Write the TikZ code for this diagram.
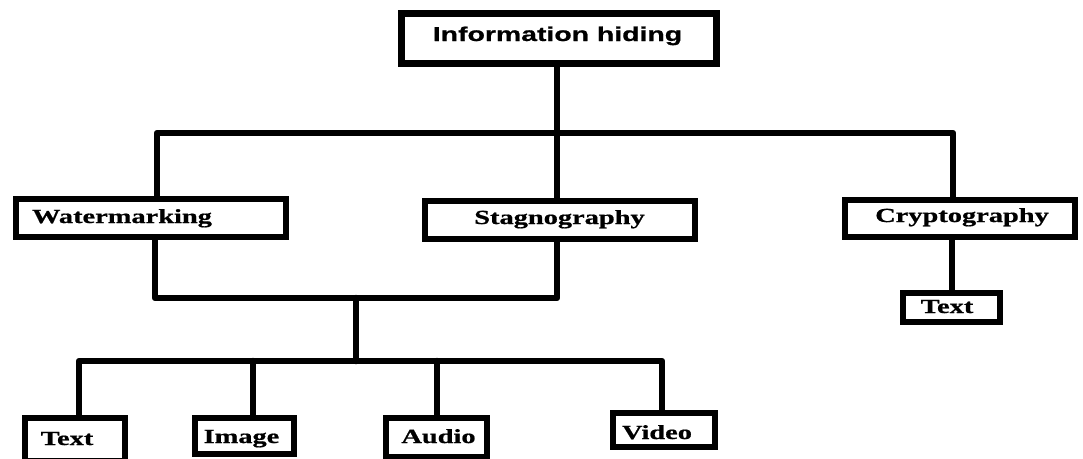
\documentclass[tikz,border=0pt]{standalone}
\usepackage{fontspec}
\setmainfont{Liberation Serif}[FakeStretch=1.42,FakeBold=0.8]
\newfontfamily\headfont{Liberation Sans}[FakeStretch=1.42,FakeBold=0.8]
\begin{document}
\begin{tikzpicture}[x=1pt,y=-1pt,
  box/.style={draw=black,line width=6pt,fill=white,inner sep=0pt},
  lbl/.style={anchor=base,inner sep=0pt,font=\fontsize{20}{22}\selectfont\bfseries},
  wire/.style={line width=6.5pt,line cap=round,line join=round}]
\useasboundingbox (0,0) rectangle (1083,458);

% junction points of the tree
\coordinate (b1L) at (157,133);
\coordinate (b1S) at (557,133);
\coordinate (b1R) at (953,133);
\coordinate (b2L) at (155,298);
\coordinate (b2M) at (356,298);
\coordinate (b2R) at (557,298);
\coordinate (b3M) at (356,361);
\coordinate (b3A) at (79,361);
\coordinate (b3B) at (253,361);
\coordinate (b3C) at (437,361);
\coordinate (b3D) at (662,361);

% boxes
\node[box,line width=7pt,minimum width=315pt,minimum height=50pt] (info) at (559,38.5) {};
\node[box,minimum width=270pt,minimum height=38pt] (wm) at (151,218) {};
\node[box,minimum width=270pt,minimum height=38pt] (st) at (560,220) {};
\node[box,minimum width=230pt,minimum height=37pt] (cr) at (960,218.5) {};
\node[box,minimum width=97pt,minimum height=29pt] (tc) at (951.5,307.5) {};
\node[box,minimum width=100pt,minimum height=43pt] (tb) at (75,439.5) {};
\node[box,minimum width=99pt,minimum height=36pt] (im) at (244.5,436) {};
\node[box,minimum width=101pt,minimum height=39pt] (au) at (436.5,437.5) {};
\node[box,minimum width=102pt,minimum height=34pt] (vi) at (664,430) {};

% tree lines
\draw[wire] (info.south -| b1S) -- (b1S) -- (b1S |- st.north);
\draw[wire] (b1L |- wm.north) -- (b1L) -- (b1R) -- (b1R |- cr.north);
\draw[wire] (b2L |- wm.south) -- (b2L) -- (b2R) -- (b2R |- st.south);
\draw[wire] (b2M) -- (b3M);
\draw[wire] (b3A |- tb.north) -- (b3A) -- (b3D) -- (b3D |- vi.north);
\draw[wire] (b3B) -- (b3B |- im.north);
\draw[wire] (b3C) -- (b3C |- au.north);
\draw[wire] (cr.south -| 952,0) -- (tc.north -| 952,0);

% labels
\node[lbl,font=\headfont\fontsize{20}{22}\selectfont\bfseries] (infot) at (557.5,41) {Information hiding};
\node[lbl] (wmt) at (122,223) {Watermarking};
\node[lbl] (stt) at (559.5,224) {Stagnography};
\node[lbl] (crt) at (962,222) {Cryptography};
\node[lbl] (tct) at (947,313) {Text};
\node[lbl] (tbt) at (67,445) {Text};
\node[lbl] (imt) at (241.5,443) {Image};
\node[lbl] (aut) at (438.5,443) {Audio};
\node[lbl] (vit) at (657,439) {Video};
\end{tikzpicture}
\end{document}
